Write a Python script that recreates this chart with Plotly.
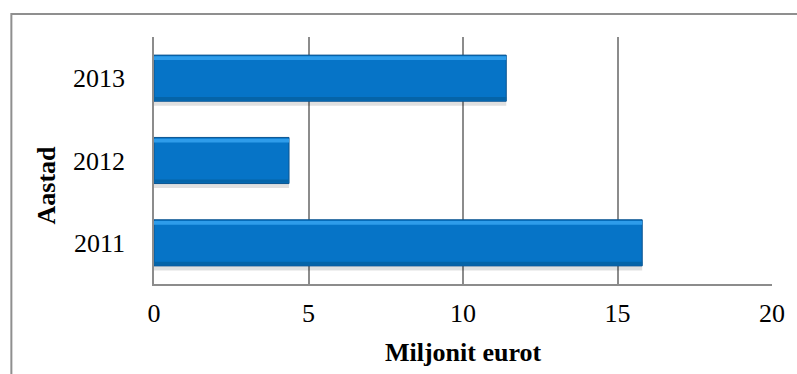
import plotly.graph_objects as go

# Annual amounts, million euros
years = ["2011", "2012", "2013"]
values = [15.8, 4.37, 11.4]

x_ticks = [0, 5, 10, 15, 20]

FONT = "Liberation Serif"
GRID = "#8C8C8C"

fig = go.Figure()

# soft drop shadow under each bar
fig.add_bar(y=years, x=values, orientation="h", width=0.6, offset=-0.335,
            marker=dict(color="rgba(0,0,0,0.12)", line=dict(width=0)),
            hoverinfo="skip", showlegend=False)
# main bar body
fig.add_bar(y=years, x=values, orientation="h", width=0.56, offset=-0.28,
            marker=dict(color="#0674C7", line=dict(color="#0B5490", width=1)),
            showlegend=False)
# light bevel along the top edge
fig.add_bar(y=years, x=values, orientation="h", width=0.045, offset=0.22,
            marker=dict(color="#2E9CEA", line=dict(width=0)),
            hoverinfo="skip", showlegend=False)
# darker bevel along the bottom edge
fig.add_bar(y=years, x=values, orientation="h", width=0.04, offset=-0.27,
            marker=dict(color="#0564A8", line=dict(width=0)),
            hoverinfo="skip", showlegend=False)

fig.update_layout(
    barmode="overlay",
    width=797, height=374,
    margin=dict(l=154, r=19, t=37, b=89),
    paper_bgcolor="white", plot_bgcolor="white",
    font=dict(family=FONT, size=26, color="black"),
    xaxis=dict(
        range=[0, 20], tickvals=x_ticks, ticktext=[str(v) for v in x_ticks],
        showgrid=True, gridcolor=GRID, gridwidth=1.5,
        showline=True, linecolor=GRID, linewidth=1.5,
        zeroline=False,
        ticks="outside", ticklen=5, tickcolor="rgba(0,0,0,0)",
        tickfont=dict(family=FONT, size=26),
        title=dict(text="Miljonit eurot", standoff=16,
                   font=dict(family=FONT, size=26, weight="bold")),
    ),
    yaxis=dict(
        type="category", categoryorder="array", categoryarray=years,
        range=[-0.5, 2.5],
        showgrid=False,
        showline=True, linecolor=GRID, linewidth=1.5,
        ticks="outside", ticklen=22, tickcolor="rgba(0,0,0,0)",
        tickfont=dict(family=FONT, size=26),
    ),
    annotations=[dict(text="<b>Aastad</b>", textangle=-90,
                      xref="paper", yref="paper", x=-0.1747, y=0.399,
                      xanchor="center", yanchor="middle", showarrow=False,
                      font=dict(family=FONT, size=26))],
    shapes=[dict(type="rect", xref="paper", yref="paper",
                 x0=-0.2308, x1=1.2, y0=-1.0, y1=1.0927,
                 line=dict(color="#8F8F8F", width=2), fillcolor="rgba(0,0,0,0)",
                 layer="below")],
)

fig.write_html("out.html")
